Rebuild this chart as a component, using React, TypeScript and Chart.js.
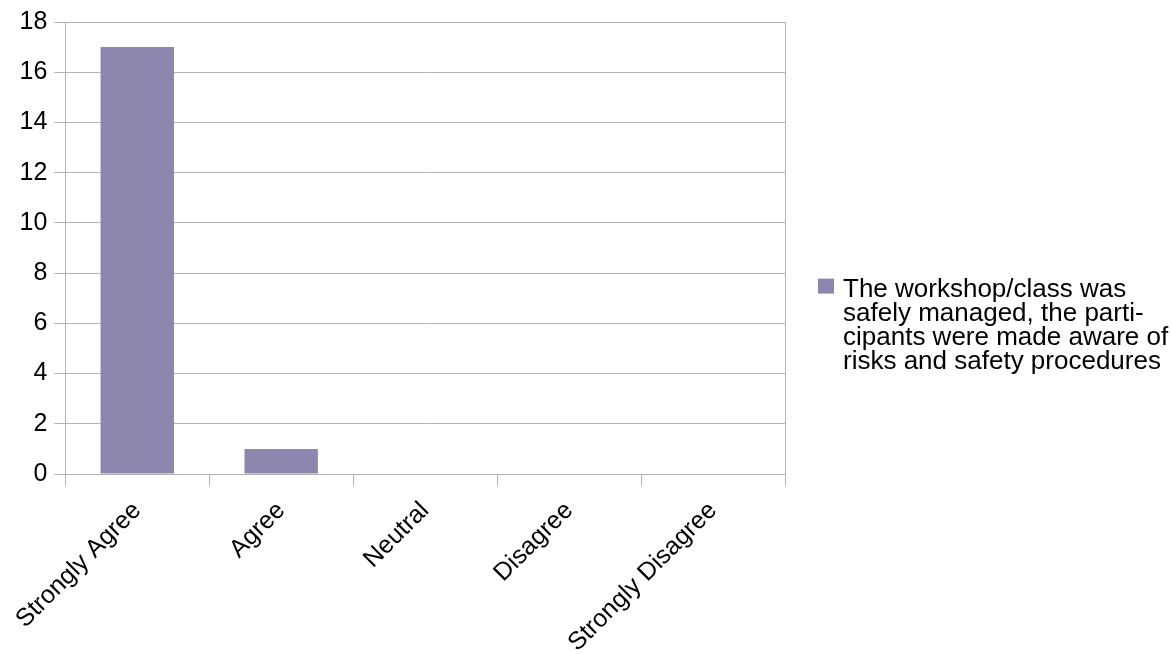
import React, { useEffect, useRef } from "react";
import { Chart, registerables } from "chart.js";

Chart.register(...registerables);

const categories: string[] = ["Strongly Agree", "Agree", "Neutral", "Disagree", "Strongly Disagree"];
const responses: number[] = [17, 1, 0, 0, 0];
const legendLines: string[] = [
  "The workshop/class was",
  "safely managed, the parti-",
  "cipants were made aware of",
  "risks and safety procedures",
];
const yMin = 0;
const yMax = 18;
const yStep = 2;

const FONT = "'Liberation Sans', Arial, sans-serif";
const GRID = "#b3b3b3";
const BAR = "#8e86ae";

const rightBorder = {
  id: "rightBorder",
  afterDatasetsDraw(chart: any) {
    const { ctx, chartArea } = chart;
    ctx.save();
    ctx.strokeStyle = GRID;
    ctx.lineWidth = 1;
    ctx.beginPath();
    const x = Math.round(chartArea.right) + 0.5;
    ctx.moveTo(x, chartArea.top);
    ctx.lineTo(x, chartArea.bottom);
    ctx.stroke();
    ctx.restore();
  },
};

const sideLegend = {
  id: "sideLegend",
  afterDraw(chart: any) {
    const { ctx, chartArea } = chart;
    const ds = chart.data.datasets[0];
    const lines: string[] = ds.label as any;
    const boxX = chartArea.right + 33;
    const lineH = 24.2;
    const total = lines.length * lineH;
    const midY = chart.height / 2;
    const firstBaseline = midY - total / 2 + 18;
    ctx.save();
    ctx.fillStyle = ds.backgroundColor;
    ctx.fillRect(boxX, firstBaseline - 18, 16, 15);
    ctx.fillStyle = "#000";
    ctx.font = `26px ${FONT}`;
    ctx.textBaseline = "alphabetic";
    ctx.textAlign = "left";
    lines.forEach((t, i) => {
      ctx.fillText(t, boxX + 25, firstBaseline + i * lineH);
    });
    ctx.restore();
  },
};

export default function App() {
  const ref = useRef<HTMLCanvasElement | null>(null);
  useEffect(() => {
    document.body.style.margin = "0";
    const canvas = ref.current;
    if (!canvas) return;
    const chart = new Chart(canvas, {
      type: "bar",
      data: {
        labels: categories,
        datasets: [
          {
            label: legendLines as any,
            data: responses,
            backgroundColor: BAR,
            borderWidth: 0,
            categoryPercentage: 1,
            barPercentage: 0.51,
          },
        ],
      },
      options: {
        responsive: false,
        animation: false,
        devicePixelRatio: 1,
        layout: { padding: { left: 20, top: 9, right: 386, bottom: 0 } },
        plugins: {
          tooltip: { enabled: false },
          legend: { display: false },
        },
        scales: {
          x: {
            afterFit(scale: any) {
              scale.height = 180;
              scale.paddingLeft = 0;
              scale.paddingRight = 0;
            },
            grid: {
              display: true,
              offset: true,
              drawOnChartArea: false,
              drawTicks: true,
              tickLength: 12,
              color: GRID,
            },
            border: { display: true, color: GRID },
            ticks: {
              minRotation: 45,
              maxRotation: 45,
              autoSkip: false,
              color: "#000",
              padding: 10,
              font: { family: FONT, size: 25 },
            },
          },
          y: {
            min: yMin,
            max: yMax,
            afterFit(scale: any) {
              scale.width = 45.3;
            },
            grid: { color: GRID, tickLength: 11 },
            border: { display: true, color: GRID },
            ticks: {
              stepSize: yStep,
              color: "#000",
              padding: 7,
              font: { family: FONT, size: 25 },
            },
          },
        },
      },
      plugins: [rightBorder, sideLegend],
    });
    return () => chart.destroy();
  }, []);
  return (
    <div style={{ width: 1171, height: 654, background: "#fff" }}>
      <canvas ref={ref} width={1171} height={654} />
    </div>
  );
}
